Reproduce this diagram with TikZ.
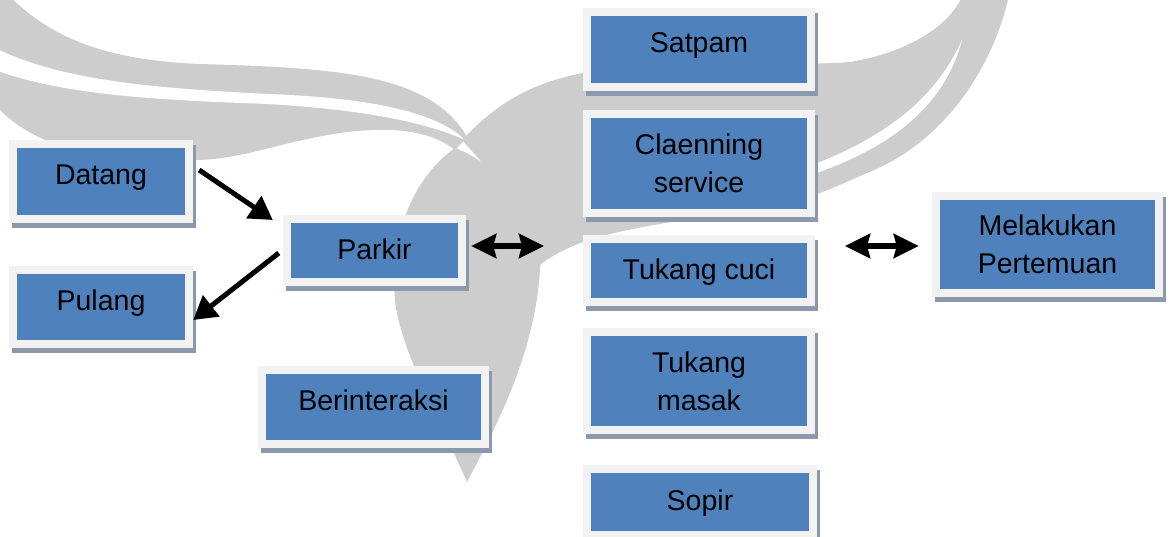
\documentclass[tikz,border=0pt]{standalone}
\usepackage{fontspec}
\setmainfont{Liberation Sans}
\usetikzlibrary{arrows.meta,shadows}

\definecolor{boxblue}{RGB}{79,129,189}
\definecolor{framegray}{RGB}{242,242,242}
\definecolor{shadowcol}{RGB}{140,152,172}
\definecolor{wmgray}{RGB}{205,205,205}

\tikzset{
  box/.style 2 args={
    rectangle, fill=framegray, minimum width=#1pt, minimum height=#2pt,
    inner sep=0pt, align=center,
    drop shadow={shadow xshift=3pt, shadow yshift=-5pt, fill=shadowcol, opacity=1},
    path picture={\fill[boxblue]
      ([shift={(8pt,8pt)}]path picture bounding box.south west) rectangle
      ([shift={(-8pt,-8pt)}]path picture bounding box.north east);}
  },
  oneline/.style={text height=20pt, text depth=#1pt},
  flow/.style={line width=5pt, -{Triangle[length=23pt,width=26pt]}},
  both/.style={line width=5.5pt, {Stealth[length=25pt,width=24pt,inset=3pt]}-{Stealth[length=25pt,width=24pt,inset=3pt]}},
  wm/.style={fill=wmgray},
  slit/.style={fill=white}
}

\begin{document}
\begin{tikzpicture}[x=1pt,y=-1pt, font=\fontsize{28.5}{38}\selectfont]
\useasboundingbox (0,0) rectangle (1171,537);

% watermark logo: left wing, right wing, tail
\fill[wm] (-5,-20) .. controls (40,35) and (100,60) .. (200,64)
  .. controls (330,68) and (430,72) .. (467,137)
  -- (455,150) .. controls (430,130) and (390,126) .. (340,133)
  .. controls (280,142) and (240,160) .. (195,160)
  .. controls (110,165) and (40,150) .. (0,110) -- (-5,110) -- cycle;
\fill[slit] (-5,48) .. controls (60,80) and (150,88) .. (268,94)
  .. controls (380,98) and (440,115) .. (465,140)
  .. controls (430,124) and (370,110) .. (268,104)
  .. controls (150,100) and (60,94) .. (-5,70) -- cycle;
\fill[wm] (462,140) .. controls (500,100) and (540,75) .. (620,68)
  .. controls (720,62) and (800,66) .. (850,62)
  .. controls (910,52) and (950,25) .. (963,-5) -- (1009,-5)
  .. controls (995,60) and (950,140) .. (867,173)
  .. controls (840,185) and (817,195) .. (800,200)
  .. controls (680,225) and (590,225) .. (540,265) -- (480,160) -- cycle;
\fill[slit] (962,40) .. controls (945,105) and (890,155) .. (780,184)
  -- (780,176) .. controls (880,145) and (935,100) .. (962,40) -- cycle;
\fill[wm] (455,148) .. controls (500,165) and (545,215) .. (540,270)
  .. controls (535,350) and (500,420) .. (467,482)
  .. controls (440,420) and (400,350) .. (395,300)
  .. controls (390,240) and (410,180) .. (455,148) -- cycle;

% boxes
\node[box={184}{83}, oneline=13] (datang) at (101,181.5) {Datang};
\node[box={184}{82}, oneline=12] (pulang) at (101,307) {Pulang};
\node[box={183}{71}, oneline=1] (parkir) at (374.5,250.5) {Parkir};
\node[box={231}{82}, oneline=12] (berinteraksi) at (373.5,407) {Berinteraksi};
\node[box={232}{83}, oneline=13] (satpam) at (699,49.5) {Satpam};
\node[box={232}{107}] (cleaning) at (699,163.5) {Claenning\\service};
\node[box={232}{71}, oneline=1] (cuci) at (699,270.5) {Tukang cuci};
\node[box={232}{106}] (masak) at (699,381) {Tukang\\masak};
\node[box={234}{74}, oneline=4] (sopir) at (700,502) {Sopir};
\node[box={231}{105}] (pertemuan) at (1047.5,244.5) {Melakukan\\Pertemuan};

% free ends of the two-way arrows
\coordinate (staffL) at (544,246);
\coordinate (staffR) at (845,246);

% connectors
\draw[flow] ([shift={(6pt,11.5pt)}]datang.east) -- ([shift={(-10pt,30.5pt)}]parkir.west);
\draw[flow] ([shift={(-4pt,-2.5pt)}]parkir.west) -- ([shift={(0pt,-13pt)}]pulang.east);
\draw[both] ([shift={(5pt,4.5pt)}]parkir.east) -- (staffL);
\draw[both] (staffR) -- ([shift={(-13pt,-1.5pt)}]pertemuan.west);
\end{tikzpicture}
\end{document}
